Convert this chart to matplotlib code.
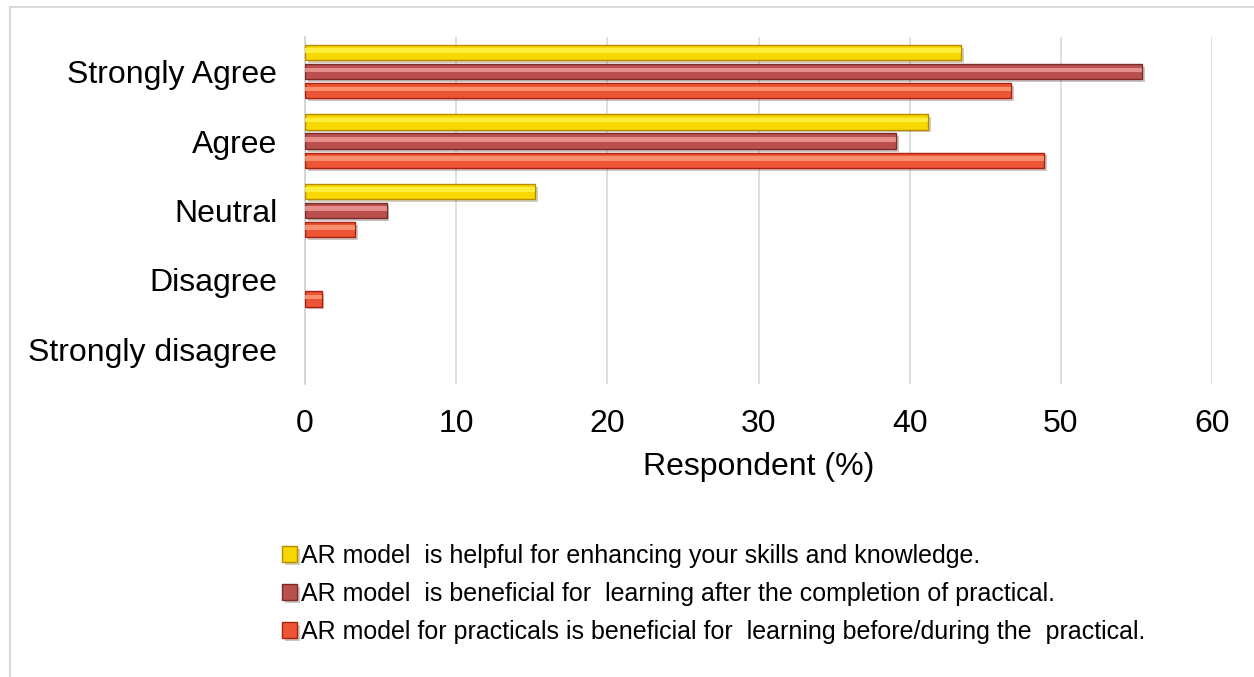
import matplotlib
matplotlib.use("Agg")
import matplotlib.pyplot as plt
import matplotlib.patheffects as pe
from matplotlib.patches import Rectangle
import numpy as np

plt.rcParams['font.family'] = ['Liberation Sans', 'DejaVu Sans']

categories = ["Strongly Agree", "Agree", "Neutral", "Disagree", "Strongly disagree"]
series_labels = [
    "AR model  is helpful for enhancing your skills and knowledge.",
    "AR model  is beneficial for  learning after the completion of practical.",
    "AR model for practicals is beneficial for  learning before/during the  practical.",
]
helpful = [43.4, 41.2, 15.2, 0, 0]
after_practical = [55.4, 39.1, 5.4, 0, 0]
before_practical = [46.7, 48.9, 3.3, 1.1, 0]
xticks = [0, 10, 20, 30, 40, 50, 60]

series = [helpful, after_practical, before_practical]
face = ["#F7D800", "#B9504E", "#EE5535"]
light = ["#FFF24A", "#EE9A98", "#FF9A78"]
edge = ["#B88A00", "#7A2A28", "#A82010"]

W, H = 1254, 677
fig = plt.figure(figsize=(W / 100, H / 100), dpi=100)
fig.patch.set_facecolor("white")
# chart-area border
fig.add_artist(Rectangle((10 / W, -0.1), 1.2, 1 - 7 / H + 0.1, transform=fig.transFigure,
                         fill=False, edgecolor="#D9D9D9", linewidth=1.5))

ax = fig.add_axes([305 / W, 1 - 384 / H, 907 / W, 347 / H])
y = np.arange(len(categories))
pitch = 0.275
bh = 0.22
offsets = [-pitch, 0, pitch]
handles = []
for i, vals in enumerate(series):
    bars = ax.barh(y + offsets[i], vals, height=bh, color=face[i], edgecolor=edge[i],
                   linewidth=1.0, zorder=3, label=series_labels[i],
                   path_effects=[pe.SimplePatchShadow(offset=(2, -2), alpha=0.25), pe.Normal()])
    ax.barh(y + offsets[i] - bh * 0.12, vals, height=bh * 0.3, color=light[i],
            linewidth=0, zorder=4, alpha=0.85)
    for b, v in zip(bars, vals):
        if v == 0:
            b.set_visible(False)
    handles.append(bars)

ax.set_xlim(0, 60)
ax.set_ylim(len(categories) - 0.5, -0.5)
ax.set_xticks(xticks)
ax.set_yticks(y)
ax.set_yticklabels(categories)
ax.tick_params(axis="both", length=0, labelsize=23, colors="black")
ax.tick_params(axis="x", pad=18)
ax.tick_params(axis="y", pad=20)
ax.grid(axis="x", color="#D9D9D9", linewidth=1.2, zorder=0)
for s in ["top", "right", "bottom"]:
    ax.spines[s].set_visible(False)
ax.spines["left"].set_color("#D0D0D0")
ax.spines["left"].set_linewidth(1.2)
ax.set_xlabel("Respondent (%)", fontsize=23, labelpad=9)

leg = fig.legend(handles=handles, labels=series_labels, loc="upper left",
                 bbox_to_anchor=(282 / W, 1 - 544 / H), frameon=False, fontsize=18,
                 handlelength=0.6, handleheight=0.6, handletextpad=0.15,
                 labelspacing=0.56, borderpad=0, borderaxespad=0)

fig.savefig("out.png", dpi=100, facecolor="white")
